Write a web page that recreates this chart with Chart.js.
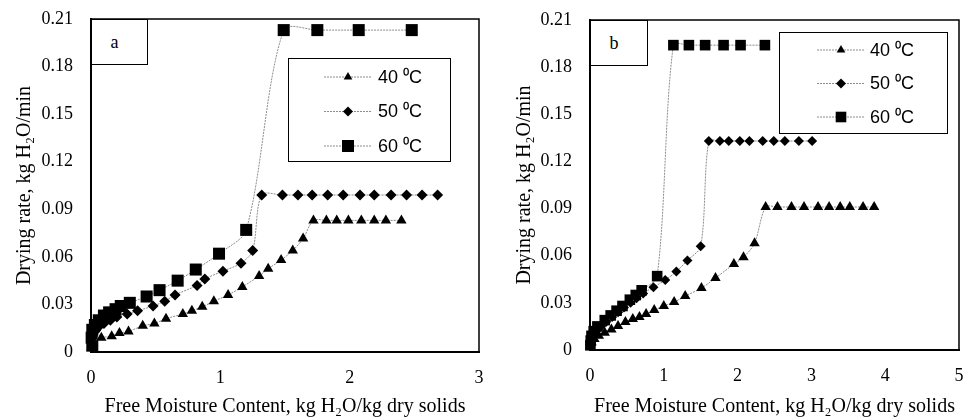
<!DOCTYPE html>
<html>
<head>
<meta charset="utf-8">
<script src="https://cdn.jsdelivr.net/npm/chart.js@4.4.1/dist/chart.umd.min.js"></script>
<style>
  html, body { margin: 0; padding: 0; background: #fff; }
  #wrap { position: relative; width: 967px; height: 417px; }
  .pane { position: absolute; top: 0; height: 417px; }
  .tag {
    position: absolute; border: 1px solid #000; background: #fff; box-sizing: border-box;
    font: 18px "Liberation Serif", "Times New Roman", serif; color: #000;
    display: flex; align-items: center; justify-content: center; padding-right: 10px;
  }
</style>
</head>
<body>
<div id="wrap">
  <div class="pane" style="left:0;width:488px"><canvas id="chartA"></canvas></div>
  <div class="pane" style="left:488px;width:479px"><canvas id="chartB"></canvas></div>
  <div class="tag" style="left:91px;top:19px;width:57px;height:46px">a</div>
  <div class="tag" style="left:590px;top:20px;width:58px;height:46px">b</div>
</div>
<script>
// series names
var seriesNames = ["40 \u2070C", "50 \u2070C", "60 \u2070C"];

// panel a
var a40x = [0.003, 0.015, 0.08, 0.16, 0.22, 0.29, 0.40, 0.49, 0.58, 0.71, 0.78, 0.86, 0.95, 1.06, 1.17, 1.30, 1.37, 1.47, 1.56, 1.64, 1.72, 1.82, 1.90, 1.99, 2.09, 2.19, 2.28, 2.40];
var a40y = [0.003, 0.006, 0.009, 0.010, 0.012, 0.013, 0.0165, 0.018, 0.021, 0.024, 0.026, 0.0285, 0.032, 0.036, 0.041, 0.048, 0.0525, 0.058, 0.064, 0.0715, 0.083, 0.083, 0.083, 0.083, 0.083, 0.083, 0.083, 0.083];
var a50x = [0.005, 0.01, 0.03, 0.06, 0.1, 0.15, 0.2, 0.28, 0.36, 0.48, 0.57, 0.65, 0.82, 0.88, 1.02, 1.16, 1.25, 1.32, 1.48, 1.60, 1.71, 1.83, 1.95, 2.08, 2.19, 2.32, 2.44, 2.56, 2.68];
var a50y = [0.006, 0.010, 0.013, 0.016, 0.018, 0.020, 0.022, 0.024, 0.026, 0.029, 0.032, 0.036, 0.042, 0.046, 0.051, 0.056, 0.064, 0.099, 0.099, 0.099, 0.099, 0.099, 0.099, 0.099, 0.099, 0.099, 0.099, 0.099, 0.099];
var a60x = [0.01, 0.005, 0.01, 0.03, 0.06, 0.1, 0.14, 0.19, 0.23, 0.3, 0.43, 0.53, 0.67, 0.81, 0.99, 1.2, 1.49, 1.75, 2.07, 2.48];
var a60y = [0.004, 0.009, 0.014, 0.017, 0.020, 0.023, 0.025, 0.027, 0.029, 0.031, 0.035, 0.039, 0.045, 0.052, 0.062, 0.077, 0.203, 0.203, 0.203, 0.203];

// panel b
var b40x = [0.005, 0.02, 0.06, 0.12, 0.2, 0.29, 0.38, 0.48, 0.58, 0.67, 0.76, 0.87, 1.0, 1.14, 1.29, 1.51, 1.70, 1.95, 2.08, 2.23, 2.38, 2.54, 2.73, 2.90, 3.09, 3.24, 3.39, 3.52, 3.70, 3.85];
var b40y = [0.003, 0.005, 0.007, 0.009, 0.011, 0.013, 0.0153, 0.0178, 0.0197, 0.021, 0.0229, 0.0254, 0.028, 0.0305, 0.0343, 0.0394, 0.0458, 0.0547, 0.059, 0.068, 0.091, 0.091, 0.091, 0.091, 0.091, 0.091, 0.091, 0.091, 0.091, 0.091];
var b50x = [0.005, 0.02, 0.05, 0.1, 0.15, 0.22, 0.3, 0.38, 0.46, 0.55, 0.63, 0.72, 0.86, 1.02, 1.17, 1.32, 1.50, 1.61, 1.76, 1.88, 2.03, 2.16, 2.34, 2.49, 2.64, 2.83, 3.01];
var b50y = [0.003, 0.007, 0.010, 0.013, 0.015, 0.018, 0.021, 0.024, 0.027, 0.030, 0.033, 0.036, 0.040, 0.0445, 0.050, 0.057, 0.066, 0.133, 0.133, 0.133, 0.133, 0.133, 0.133, 0.133, 0.133, 0.133, 0.133];
var b60x = [0.005, 0.01, 0.02, 0.05, 0.1, 0.2, 0.28, 0.36, 0.44, 0.54, 0.62, 0.7, 0.91, 1.13, 1.34, 1.56, 1.81, 2.04, 2.37];
var b60y = [0.003, 0.006, 0.009, 0.012, 0.015, 0.019, 0.022, 0.025, 0.028, 0.032, 0.035, 0.038, 0.047, 0.194, 0.194, 0.194, 0.194, 0.194, 0.194];

// axis ticks
var yTicks = [0, 0.03, 0.06, 0.09, 0.12, 0.15, 0.18, 0.21];
var xTicksA = [0, 1, 2, 3];
var xTicksB = [0, 1, 2, 3, 4, 5];

var xTitle = "Free Moisture Content, kg H\u2082O/kg dry solids";
var yTitle = "Drying rate, kg H\u2082O/min";

function pts(xs, ys) {
  return xs.map(function (x, i) { return { x: x, y: ys[i] }; });
}

// legend drawn inside the plot, like the original
var innerLegend = {
  id: 'innerLegend',
  afterDraw: function (chart, args, o) {
    var ctx = chart.ctx;
    ctx.save();
    ctx.fillStyle = '#fff';
    ctx.fillRect(o.x, o.y, o.w, o.h);
    ctx.lineWidth = 1;
    ctx.strokeStyle = '#000';
    ctx.strokeRect(o.x + 0.5, o.y + 0.5, o.w, o.h);
    chart.data.datasets.forEach(function (ds, i) {
      var y = o.y + o.first + i * o.gap;
      ctx.beginPath();
      ctx.setLineDash([2, 1]);
      ctx.strokeStyle = ds.borderColor;
      ctx.lineWidth = 1;
      ctx.moveTo(o.lineX, y);
      ctx.lineTo(o.lineX + o.lineLen, y);
      ctx.stroke();
      ctx.setLineDash([]);
      ctx.fillStyle = '#000';
      ctx.strokeStyle = '#000';
      Chart.helpers.drawPoint(ctx, { pointStyle: ds.pointStyle, radius: o.marks[i], borderWidth: 0, rotation: 0 }, o.lineX + o.lineLen / 2, y);
      ctx.font = '18px "Liberation Sans", Arial, sans-serif';
      ctx.textBaseline = 'middle';
      ctx.fillText(ds.label, o.textX, y + 1);
    });
    ctx.restore();
  }
};

// thin top/right frame of the plot area
var frame = {
  id: 'frame',
  beforeDatasetsDraw: function (chart) {
    var a = chart.chartArea, ctx = chart.ctx;
    ctx.save();
    ctx.strokeStyle = '#000';
    ctx.lineWidth = 1.5;
    ctx.beginPath();
    ctx.moveTo(a.left, a.top);
    ctx.lineTo(a.right, a.top);
    ctx.lineTo(a.right, a.bottom);
    ctx.stroke();
    ctx.restore();
  }
};

function makeChart(id, series, xTicks, g) {
  var marks = [
    { style: 'triangle', r: g.tri },
    { style: 'rectRot', r: g.dia },
    { style: 'rect', r: g.sq }
  ];
  var datasets = series.map(function (s, i) {
    return {
      label: seriesNames[i],
      data: s,
      showLine: true,
      borderColor: '#8c8c8c',
      borderWidth: 1,
      borderDash: [2, 1],
      tension: 0.3,
      pointStyle: marks[i].style,
      pointRadius: marks[i].r,
      pointHoverRadius: marks[i].r,
      pointBackgroundColor: '#000',
      pointBorderColor: '#000',
      pointBorderWidth: 0,
      clip: false
    };
  });
  var tickFont = { family: 'Liberation Serif', size: 18 };
  var titleFont = { family: 'Liberation Serif', size: 20, lineHeight: 1.0 };
  return new Chart(id, {
    type: 'scatter',
    data: { datasets: datasets },
    options: {
      responsive: true,
      maintainAspectRatio: false,
      animation: false,
      layout: { padding: { top: g.top, right: g.right, bottom: 0, left: 0 } },
      plugins: {
        legend: { display: false },
        tooltip: { enabled: false },
        innerLegend: g.legend
      },
      scales: {
        x: {
          type: 'linear',
          min: xTicks[0],
          max: xTicks[xTicks.length - 1],
          afterBuildTicks: function (s) { s.ticks = xTicks.map(function (v) { return { value: v }; }); },
          afterFit: function (s) { s.height = g.xh; s.paddingLeft = 0; s.paddingRight = 0; },
          grid: { display: false, drawTicks: false },
          border: { display: true, color: '#000', width: 2 },
          ticks: { color: '#000', font: tickFont, padding: 15, maxRotation: 0,
                   callback: function (v) { return String(v); } },
          title: { display: true, text: xTitle, color: '#000', font: titleFont, padding: { top: 0, bottom: 0 } }
        },
        y: {
          type: 'linear',
          min: 0,
          max: 0.21,
          afterBuildTicks: function (s) { s.ticks = yTicks.map(function (v) { return { value: v }; }); },
          afterFit: function (s) { s.width = g.yw; s.paddingTop = 0; s.paddingBottom = 0; },
          grid: { display: false, drawTicks: false },
          border: { display: true, color: '#000', width: 2 },
          ticks: { color: '#000', font: tickFont, padding: 18,
                   callback: function (v) { return v === 0 ? '0' : v.toFixed(2); } },
          title: { display: true, text: yTitle, color: '#000', font: titleFont, padding: { top: g.ytp, bottom: 0 } }
        }
      }
    },
    plugins: [frame, innerLegend]
  });
}

makeChart('chartA',
  [pts(a40x, a40y), pts(a50x, a50y), pts(a60x, a60y)],
  xTicksA,
  { top: 19, right: 9, xh: 65, yw: 91, ytp: 14.5, tri: 6, dia: 5.5, sq: 8.5,
    legend: { x: 288, y: 58, w: 162, h: 103, first: 19, gap: 34.5, lineX: 324, lineLen: 48, textX: 378, marks: [5, 5, 8.5] } });

makeChart('chartB',
  [pts(b40x, b40y), pts(b50x, b50y), pts(b60x, b60y)],
  xTicksB,
  { top: 20, right: 8, xh: 67, yw: 102, ytp: 26.5, tri: 6, dia: 5, sq: 7.5,
    legend: { x: 291, y: 32, w: 168, h: 101, first: 18, gap: 33.5, lineX: 329, lineLen: 48, textX: 382, marks: [5, 5, 7.5] } });
</script>
</body>
</html>
